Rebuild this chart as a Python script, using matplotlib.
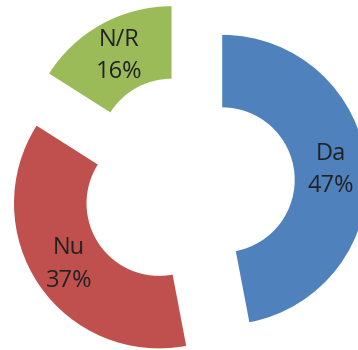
import matplotlib.pyplot as plt

# slice data
names = ['Da', 'Nu', 'N/R']
shares = [47, 37, 16]
colors = ['#4F81BD', '#C0504D', '#9BBB59']

fig = plt.figure(figsize=(3.58, 3.5), dpi=100)
ax = fig.add_axes([0, 0, 1, 1])

wedges, texts, autotexts = ax.pie(
    shares,
    colors=colors,
    startangle=90,
    counterclock=False,
    explode=[0.23, 0.25, 0.25],
    radius=1.0,
    pctdistance=0.75,
    autopct='%1.0f%%',
    wedgeprops=dict(width=0.5, linewidth=0),
    textprops=dict(fontsize=17, family='Open Sans', color='#222222'),
)
for t, name in zip(autotexts, names):
    t.set_text(name + '\n' + t.get_text())
    t.set_linespacing(1.45)

# the picture is cropped: centre sits off-middle, Da runs off the right edge
ax.set_xlim(-189 / 145, (358 - 189) / 145)
ax.set_ylim((183 - 350) / 145, 183 / 145)
ax.set_aspect('auto')
ax.axis('off')

fig.savefig('out.png', dpi=100)
